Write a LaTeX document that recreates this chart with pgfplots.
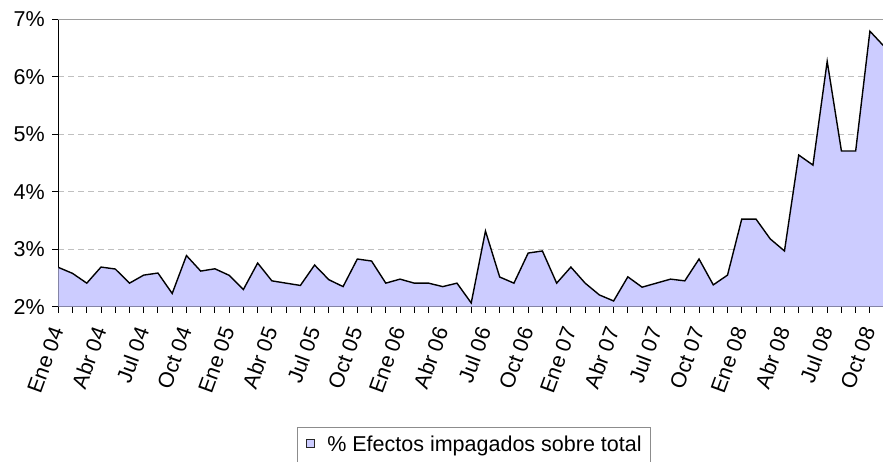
\documentclass[border=0pt]{standalone}
\usepackage{pgfplots}
\pgfplotsset{compat=1.18}
\usepackage{fontspec}
\setmainfont{Liberation Sans}
\definecolor{areafill}{HTML}{CCCCFF}
\definecolor{gridc}{HTML}{C0C0C0}
\pgfplotstableread{
k v
0 2.685
1 2.58
2 2.41
3 2.69
4 2.656
5 2.41
6 2.55
7 2.586
8 2.23
9 2.89
10 2.62
11 2.66
12 2.546
13 2.30
14 2.76
15 2.45
16 2.41
17 2.37
18 2.725
19 2.47
20 2.35
21 2.83
22 2.795
23 2.41
24 2.48
25 2.41
26 2.41
27 2.35
28 2.41
29 2.065
30 3.317
31 2.517
32 2.41
33 2.934
34 2.97
35 2.41
36 2.69
37 2.41
38 2.205
39 2.10
40 2.52
41 2.34
42 2.41
43 2.48
44 2.45
45 2.83
46 2.38
47 2.55
48 3.525
49 3.525
50 3.18
51 2.97
52 4.64
53 4.465
54 6.27
55 4.71
56 4.71
57 6.795
58 6.53
}\datatable
\begin{document}
\begin{tikzpicture}
\begin{axis}[
  at={(58.3pt,-306.7pt)}, anchor=south west,
  scale only axis, width=824.7pt, height=287.3pt,
  xmin=0, xmax=57.92, ymin=2, ymax=7,
  axis x line*=bottom, axis y line*=left,
  axis line style={black, line width=1.3pt, -},
  xtick={0,3,...,57},
  minor xtick={0,...,57},
  xticklabels={Ene 04,Abr 04,Jul 04,Oct 04,Ene 05,Abr 05,Jul 05,Oct 05,
               Ene 06,Abr 06,Jul 06,Oct 06,Ene 07,Abr 07,Jul 07,Oct 07,
               Ene 08,Abr 08,Jul 08,Oct 08},
  ytick={2,...,7},
  yticklabels={2\%,3\%,4\%,5\%,6\%,7\%},
  tick align=outside,
  major tick length=6pt,
  minor tick length=6pt,
  tick style={black, line width=1pt},
  minor tick style={black, line width=1pt},
  ymajorgrids,
  grid style={gridc, line width=1pt, dash pattern=on 6pt off 4pt},
  tick label style={font=\fontsize{21.5}{25}\selectfont},
  xticklabel style={rotate=70, anchor=east},
  xticklabel shift=12pt,
  yticklabel shift=4pt,
  clip=true,
  legend image code/.code={\draw[fill=areafill, draw=black!85, line width=1pt] (0pt,0pt) rectangle (8.6pt,8.6pt);},
  legend style={at={(0.2891,-0.4198)}, anchor=north west, draw=black!45, line width=1pt,
    inner xsep=8.5pt, inner ysep=8pt, column sep=12pt,
    nodes={inner sep=0pt, text depth=8pt}, font=\fontsize{21.5}{25}\selectfont},
]
\addplot[fill=areafill, draw=none] table[x=k, y=v] {\datatable} \closedcycle;
\addlegendentry{\% Efectos impagados sobre total}
\addplot[black, line width=1.4pt, forget plot] table[x=k, y=v] {\datatable};
\end{axis}
\draw[black!38, line width=1.3pt] (58.3pt,-19.4pt) -- (883pt,-19.4pt);
\pgfresetboundingbox
\useasboundingbox (0,0) rectangle (883pt,-461pt);
\end{tikzpicture}
\end{document}
